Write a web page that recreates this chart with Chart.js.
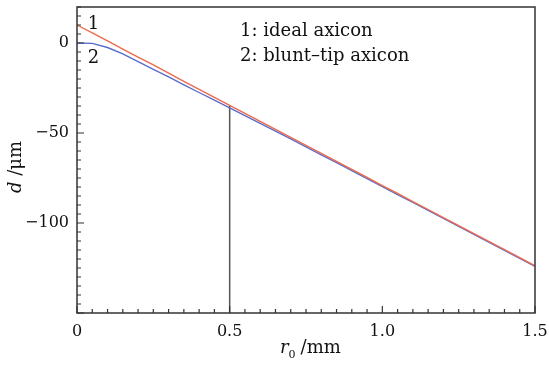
<!DOCTYPE html>
<html>
<head>
<meta charset="utf-8">
<script src="https://cdn.jsdelivr.net/npm/chart.js@4.4.1/dist/chart.umd.min.js"></script>
<style>
    html, body { margin: 0; padding: 0; background: #ffffff; }
    #box { width: 549px; height: 365px; }
</style>
</head>
<body>
<div id="box"><canvas id="axiconChart"></canvas></div>
<script>
// r0 in mm
const rValues = [0, 0.05, 0.1, 0.15, 0.2, 0.25, 0.3, 0.35, 0.4, 0.45, 0.5,
    0.55, 0.6, 0.65, 0.7, 0.75, 0.8, 0.85, 0.9, 0.95, 1.0,
    1.05, 1.1, 1.15, 1.2, 1.25, 1.3, 1.35, 1.4, 1.45, 1.5];

// curve 1: ideal axicon, d in um
const idealD = [10, 5.6, 1.2, -3.4, -7.8, -12.2, -16.8, -21.3, -25.7, -30.2, -34.6,
    -39.1, -43.5, -48.0, -52.4, -56.9, -61.3, -65.8, -70.2, -74.7, -79.2,
    -83.6, -88.1, -92.5, -97.0, -101.4, -105.9, -110.3, -114.8, -119.2, -123.8];

// curve 2: blunt-tip axicon
const bluntD = [0, -0.2, -2.5, -6.0, -10.3, -14.6, -18.8, -23.2, -27.5, -31.8, -36.0,
    -40.3, -44.6, -48.9, -53.3, -57.7, -62.1, -66.5, -70.9, -75.3, -79.8,
    -84.2, -88.6, -93.0, -97.5, -101.9, -106.3, -110.7, -115.2, -119.6, -124.1];

// marker line at r0 = 0.5
const markerR = [0.5, 0.5];
const markerD = [-150, -34.6];

const xTicks = [0, 0.5, 1.0, 1.5];
const yTicks = [-100, -50, 0];

const serif = "'DejaVu Serif', serif";

const frameAndText = {
    id: 'frameAndText',
    afterDraw(chart) {
        const ctx = chart.ctx;
        const a = chart.chartArea;
        const xs = chart.scales.x;
        const ys = chart.scales.y;

        ctx.save();
        ctx.strokeStyle = '#333';
        ctx.lineWidth = 1.5;
        ctx.strokeRect(a.left, a.top, a.right - a.left, a.bottom - a.top);

        // inward ticks
        ctx.lineWidth = 1.2;
        ctx.beginPath();
        for (let i = 0; i <= 30; i++) {
            const v = i * 0.05;
            const px = xs.getPixelForValue(v);
            const len = (i % 10 === 0) ? 7 : 4;
            ctx.moveTo(px, a.bottom);
            ctx.lineTo(px, a.bottom - len);
        }
        for (let v = -150; v <= 20; v += 5) {
            const py = ys.getPixelForValue(v);
            const len = (v % 50 === 0) ? 7 : 4;
            ctx.moveTo(a.left, py);
            ctx.lineTo(a.left + len, py);
        }
        ctx.stroke();

        ctx.fillStyle = '#111';
        ctx.textBaseline = 'alphabetic';

        // curve numbers
        ctx.font = '18px ' + serif;
        ctx.textAlign = 'left';
        ctx.fillText('1', xs.getPixelForValue(0.035), ys.getPixelForValue(8));
        ctx.fillText('2', xs.getPixelForValue(0.035), ys.getPixelForValue(-11));

        // legend text
        ctx.fillText('1: ideal axicon', xs.getPixelForValue(0.534), ys.getPixelForValue(3.9));
        ctx.fillText('2: blunt\u2013tip axicon', xs.getPixelForValue(0.534), ys.getPixelForValue(-10.2));

        // x title: r0 /mm
        ctx.font = 'italic 18px ' + serif;
        let tx = 280;
        const ty = 353;
        ctx.fillText('r', tx, ty);
        tx += ctx.measureText('r').width;
        ctx.font = '11px ' + serif;
        ctx.fillText('0', tx, ty + 5);
        tx += ctx.measureText('0').width + 5;
        ctx.font = '18px ' + serif;
        ctx.fillText('/mm', tx, ty);

        // y title: d /um
        ctx.translate(21, 193);
        ctx.rotate(-Math.PI / 2);
        ctx.font = 'italic 18px ' + serif;
        ctx.fillText('d', 0, 0);
        const dw = ctx.measureText('d ').width;
        ctx.font = '18px ' + serif;
        ctx.fillText('/\u03bcm', dw, 0);
        ctx.restore();
    }
};

function fmtNum(v) {
    return String(v).replace('-', '\u2212');
}

function noOverhang(s) {
    s.paddingTop = 0;
    s.paddingBottom = 0;
    s.paddingLeft = 0;
    s.paddingRight = 0;
}

const config = {
    type: 'line',
    data: {
        datasets: [
            {
                label: 'ideal axicon',
                data: rValues.map((r, i) => ({ x: r, y: idealD[i] })),
                borderColor: '#ee6a4c',
                borderWidth: 1.4,
                pointRadius: 0,
                tension: 0,
            },
            {
                label: 'blunt-tip axicon',
                data: rValues.map((r, i) => ({ x: r, y: bluntD[i] })),
                borderColor: '#5a6ccb',
                borderWidth: 1.4,
                pointRadius: 0,
                tension: 0,
            },
            {
                label: 'marker',
                data: markerR.map((r, i) => ({ x: r, y: markerD[i] })),
                borderColor: '#555',
                borderWidth: 1.5,
                pointRadius: 0,
            }
        ]
    },
    plugins: [frameAndText],
    options: {
        responsive: true,
        maintainAspectRatio: false,
        animation: false,
        layout: { padding: { top: 7, right: 14, left: 0, bottom: 0 } },
        plugins: {
            legend: { display: false },
            tooltip: { enabled: false },
        },
        scales: {
            x: {
                type: 'linear',
                min: 0,
                max: 1.5,
                afterBuildTicks: (s) => { s.ticks = xTicks.map(v => ({ value: v })); },
                afterFit: (s) => { s.height = 52; noOverhang(s); },
                grid: { display: false, drawTicks: false },
                border: { display: false },
                ticks: {
                    padding: 9,
                    color: '#111',
                    font: { family: serif, size: 16 },
                    callback: (v) => v === 0 ? '0' : v.toFixed(1),
                },
            },
            y: {
                type: 'linear',
                min: -150,
                max: 20,
                afterBuildTicks: (s) => { s.ticks = yTicks.map(v => ({ value: v })); },
                afterFit: (s) => { s.width = 77; noOverhang(s); },
                grid: { display: false, drawTicks: false },
                border: { display: false },
                ticks: {
                    padding: 8,
                    color: '#111',
                    font: { family: serif, size: 16 },
                    callback: (v) => fmtNum(v),
                },
            }
        }
    }
};

new Chart(document.getElementById('axiconChart').getContext('2d'), config);
</script>
</body>
</html>
